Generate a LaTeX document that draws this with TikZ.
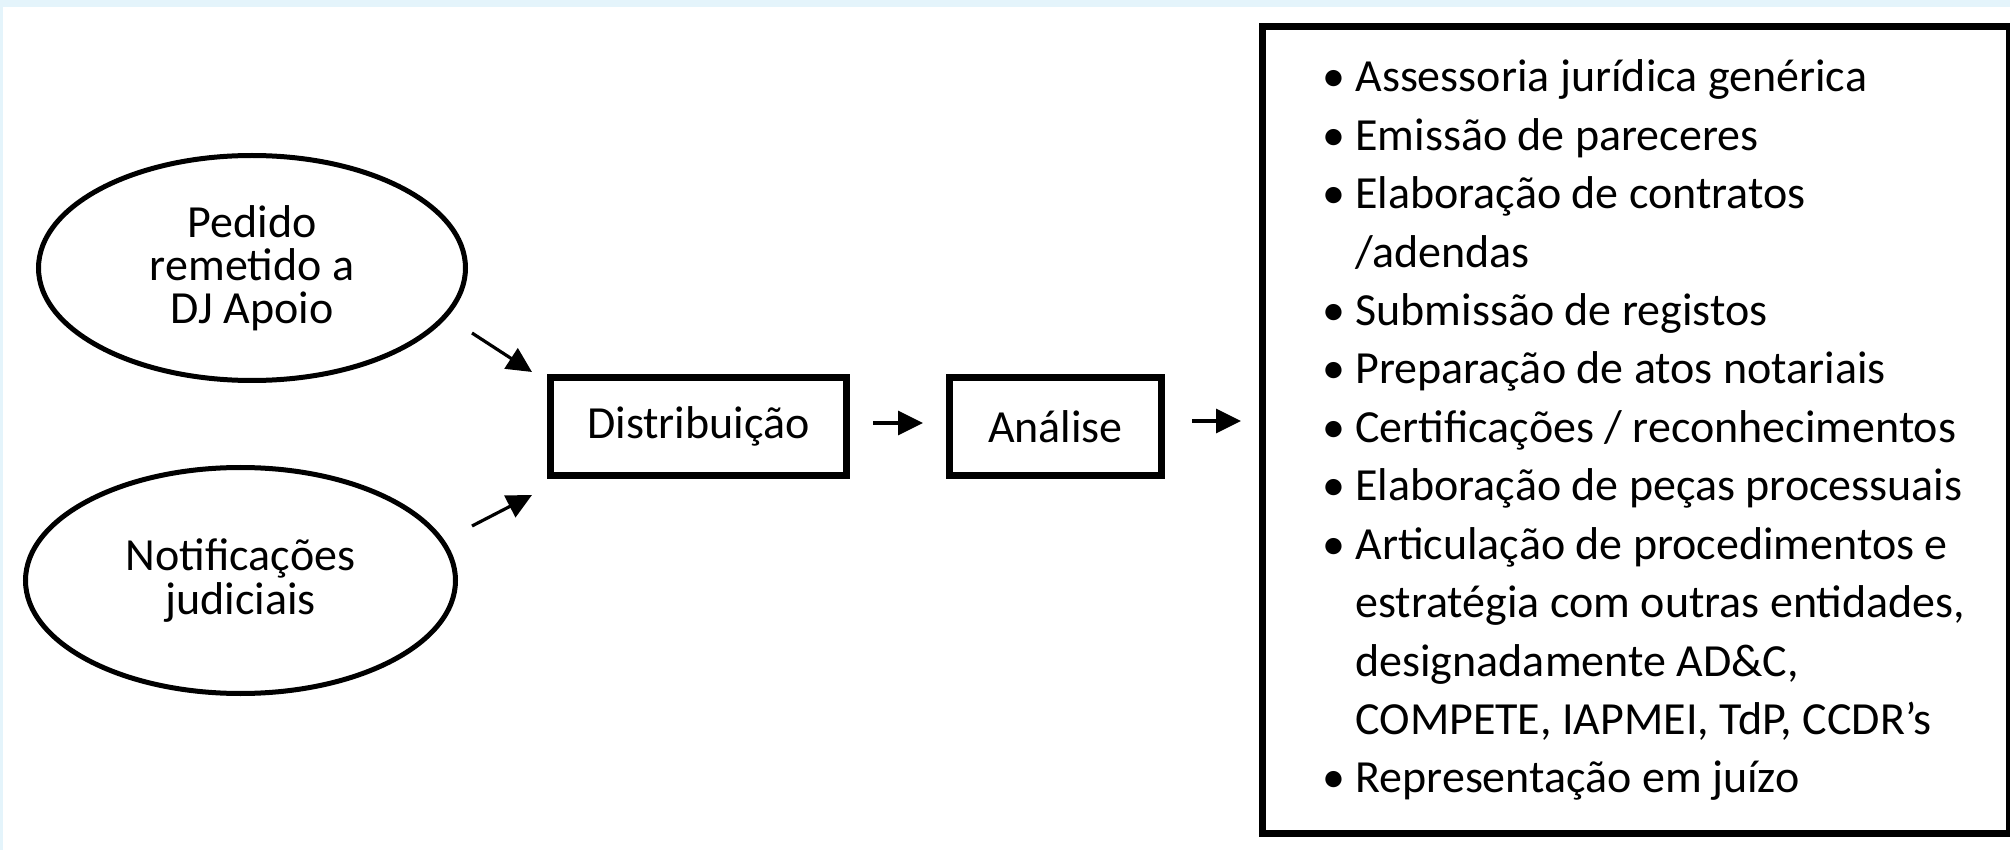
\documentclass[tikz,border=0pt]{standalone}
\usepackage{fontspec}
\setmainfont{Carlito}
\usetikzlibrary{arrows.meta,shapes.geometric}
\definecolor{bgblue}{RGB}{228,244,251}
\newcommand\mybul{\makebox[15pt][l]{\makebox[9pt][c]{\fontsize{23}{23}\selectfont •}}}
\begin{document}
\begin{tikzpicture}[x=0.5pt,y=-0.5pt,
  oval/.style={ellipse, draw, line width=2.5pt, inner sep=0pt, align=center,
    font=\fontsize{23}{21.6}\selectfont},
  stepbox/.style={rectangle, draw, line width=3.5pt, inner sep=0pt,
    font=\fontsize{23}{27}\selectfont},
  flow/.style={line width=1.6pt, -{Triangle[length=12.5pt,width=12pt]}},
  itemline/.style={anchor=base west, inner sep=0pt, font=\fontsize{23}{27}\selectfont}]
\fill[bgblue] (0,0) rectangle (2010,850);
\fill[white] (3,7) rectangle (2010,850);
\useasboundingbox (0,0) rectangle (2010,850);

\node[oval, minimum width=213.5pt, minimum height=112.5pt] (req) at (252,268) {Pedido\\remetido a\\DJ Apoio};
\node[oval, minimum width=215pt, minimum height=113pt] (notif) at (240.5,580.5) {Notificações\\judiciais};

\node[stepbox, minimum width=148pt, minimum height=49pt] (dist) at (698.5,426.5) {Distribuição};
\node[stepbox, minimum width=106pt, minimum height=49pt] (anal) at (1055.5,426.5) {Análise};
\node[draw, line width=3.5pt, minimum width=373.5pt, minimum height=403pt, inner sep=0pt] (tasks) at (1636,430) {};

\coordinate (a1s) at (472,333);
\coordinate (a1e) at (532,372);
\coordinate (a2s) at (472,526);
\coordinate (a2e) at (532,495);
\coordinate (a3s) at (873,423);
\coordinate (a3e) at (923,423);
\coordinate (a4s) at (1192,421);
\coordinate (a4e) at (1241,421);
\draw[flow] (a1s) -- (a1e);
\draw[flow] (a2s) -- (a2e);
\draw[flow] (a3s) -- (a3e);
\draw[flow] (a4s) -- (a4e);

\node[itemline] (l1) at (1325,92) {\mybul Assessoria jurídica genérica};
\node[itemline] (l2) at (1325,150.4) {\mybul Emissão de pareceres};
\node[itemline] (l3) at (1325,208.8) {\mybul Elaboração de contratos};
\node[itemline] (l4) at (1355,267.2) {/adendas};
\node[itemline] (l5) at (1325,325.6) {\mybul Submissão de registos};
\node[itemline] (l6) at (1325,384) {\mybul Preparação de atos notariais};
\node[itemline] (l7) at (1325,442.4) {\mybul Certificações / reconhecimentos};
\node[itemline] (l8) at (1325,500.8) {\mybul Elaboração de peças processuais};
\node[itemline] (l9) at (1325,559.2) {\mybul Articulação de procedimentos e};
\node[itemline] (l10) at (1355,617.6) {estratégia com outras entidades,};
\node[itemline] (l11) at (1355,676) {designadamente AD\&C,};
\node[itemline] (l12) at (1355,734.4) {COMPETE, IAPMEI, TdP, CCDR’s};
\node[itemline] (l13) at (1325,792.8) {\mybul Representação em juízo};
\end{tikzpicture}
\end{document}
